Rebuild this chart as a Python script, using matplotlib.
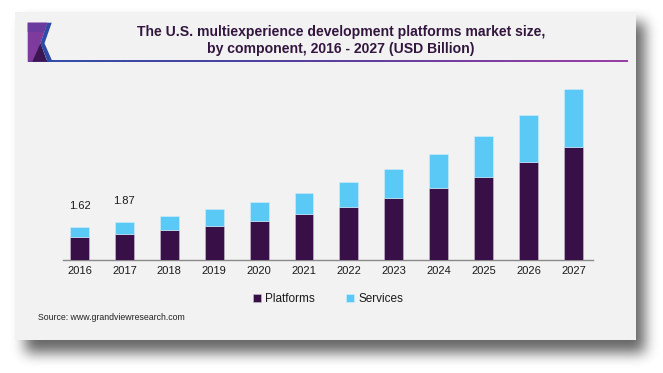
import matplotlib
matplotlib.use("Agg")
import matplotlib.pyplot as plt
import numpy as np
from matplotlib.patches import Rectangle, Polygon
from matplotlib.colors import LinearSegmentedColormap

years = ["2016", "2017", "2018", "2019", "2020", "2021", "2022", "2023", "2024", "2025", "2026", "2027"]
platforms = [1.11, 1.27, 1.46, 1.69, 1.92, 2.25, 2.60, 3.05, 3.53, 4.09, 4.81, 5.58]
services = [0.51, 0.60, 0.69, 0.81, 0.94, 1.05, 1.26, 1.42, 1.71, 2.03, 2.35, 2.83]
labels = {0: "1.62", 1: "1.87"}
title = "The U.S. multiexperience development platforms market size,\nby component, 2016 - 2027 (USD Billion)"
source = "Source: www.grandviewresearch.com"

W, H = 663, 373
fig = plt.figure(figsize=(W / 100, H / 100), dpi=100)
fig.patch.set_facecolor("white")
plt.rcParams["font.family"] = ["Liberation Sans", "DejaVu Sans"]

# overlay in pixel coordinates for card, shadow, header decorations
ov = fig.add_axes([0, 0, 1, 1], zorder=0)
ov.axis("off")

cx0, cy0, cx1, cy1 = 15, 12, 636, 340


def box_blur(a, r):
    k = 2 * r + 1
    p = np.pad(a, ((r + 1, r), (0, 0)), mode="edge")
    c = np.cumsum(p, axis=0)
    a = (c[k:] - c[:-k]) / k
    p = np.pad(a, ((0, 0), (r + 1, r)), mode="edge")
    c = np.cumsum(p, axis=1)
    return (c[:, k:] - c[:, :-k]) / k


mask = np.zeros((H, W))
mask[cy0 + 10:cy1 + 13, cx0 + 10:cx1 + 9] = 1.0
sh = mask
for _ in range(3):
    sh = box_blur(sh, 6)
rgba = np.zeros((H, W, 4))
rgba[..., 3] = np.clip(sh * 0.6, 0, 1)
ov.imshow(rgba, extent=[0, W, H, 0], interpolation="bilinear", zorder=1)
ov.add_patch(Rectangle((cx0, cy0), cx1 - cx0, cy1 - cy0, facecolor="#f2f2f2", edgecolor="none", zorder=2))

# header gradient line
grad = np.linspace(0, 1, 256).reshape(1, -1)
cmap = LinearSegmentedColormap.from_list("hdr", ["#2f4fa8", "#5a3f9e", "#9a3fa6"])
ov.imshow(grad, cmap=cmap, aspect="auto", extent=[28, 628, 62.2, 60.2], zorder=3)
ov.set_xlim(0, W)
ov.set_ylim(H, 0)

# logo
ov.add_patch(Polygon([(27.7, 22.7), (47.3, 22.7), (40.5, 43.3), (46.5, 61.7), (27.7, 61.7)],
                     closed=True, facecolor="#7e3a9c", edgecolor="none", zorder=4))
ov.add_patch(Polygon([(27.7, 22.7), (47.3, 22.7), (44, 32), (27.7, 32)],
                     closed=True, facecolor="#6a3a9e", edgecolor="none", zorder=4))
ov.add_patch(Polygon([(32.3, 61.7), (40.5, 43.3), (47.3, 61.7)],
                     closed=True, facecolor="#3b1552", edgecolor="none", zorder=5))
ov.add_patch(Polygon([(47.3, 22.7), (51.7, 22.7), (44.5, 43.3), (52.5, 61.7), (47.5, 61.7), (40.5, 43.3)],
                     closed=True, facecolor="#2e4aa6", edgecolor="none", zorder=5))

# title
fig.text(341 / W, 1 - 40.5 / H, title, ha="center", va="center", fontsize=10.1, fontweight="bold",
         color="#33163f", linespacing=1.2, zorder=10)

# main axes
ax = fig.add_axes([62.7 / W, 113 / H, (593 - 62.7) / W, 182.7 / H], zorder=5)
ax.patch.set_alpha(0)
x = np.arange(len(years))
ax.bar(x, platforms, width=0.42, color="#380f47", edgecolor="#c9bfd0", linewidth=0.4, label="Platforms", zorder=3)
ax.bar(x, services, width=0.42, bottom=platforms, color="#5bc9f5", edgecolor="#d4eefb", linewidth=0.4,
       label="Services", zorder=3)
for i, t in labels.items():
    ax.text(x[i], platforms[i] + services[i] + 1.06, t, ha="center", va="center", fontsize=8.0, color="#1a1a1a")
ax.set_xlim(-0.374, 11.436)
ax.set_ylim(0, 9)
ax.set_xticks(x)
ax.set_xticklabels(years, fontsize=8.0, color="#1a1a1a")
ax.tick_params(axis="x", length=0, pad=4)
ax.set_yticks([])
for s in ["top", "right", "left"]:
    ax.spines[s].set_visible(False)
ax.spines["bottom"].set_color("#8a8a8a")
ax.spines["bottom"].set_linewidth(1.0)

leg = fig.legend(loc="center", bbox_to_anchor=(328 / W, 1 - 299 / H), ncol=2, frameon=False,
                 fontsize=8.5, handlelength=0.7, handleheight=0.7, handletextpad=0.35, columnspacing=2.6)
for t in leg.get_texts():
    t.set_color("#1a1a1a")

fig.text(38 / W, 1 - 318 / H, source, ha="left", va="center", fontsize=6.3, color="#222222", zorder=10)

fig.savefig("out.png", dpi=100, facecolor="white")
